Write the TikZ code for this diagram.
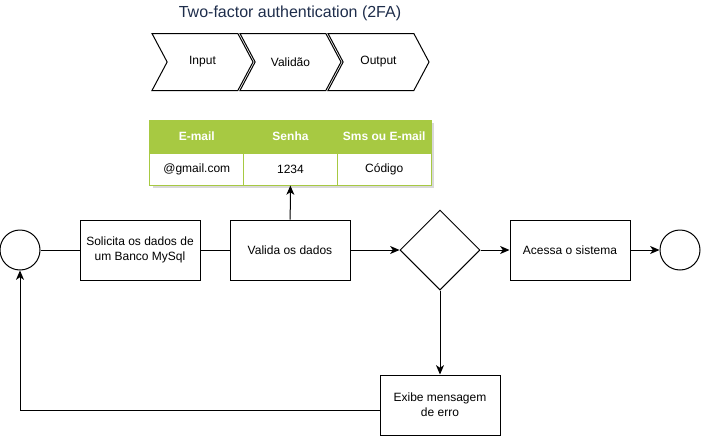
\documentclass[tikz,border=0pt]{standalone}
\usepackage{fontspec}
\setmainfont{Liberation Sans}
\usetikzlibrary{arrows.meta,shapes.geometric,shapes.symbols,shadows}
\definecolor{tabgreen}{RGB}{167,201,66}
\definecolor{titleblue}{RGB}{30,45,75}

\begin{document}
\begin{tikzpicture}[x=0.75pt, y=-0.75pt, >={Stealth[length=7pt,width=6pt,inset=2pt]},
  line width=0.75pt, font=\fontsize{9}{11}\selectfont,
  etapa/.style={draw, rectangle, minimum width=90pt, minimum height=45pt, align=center, inner sep=2pt},
  evento/.style={draw, circle, minimum size=30pt, inner sep=0pt},
  decisao/.style={draw, diamond, aspect=1, minimum width=60pt, minimum height=60pt, inner sep=0pt},
  fase/.style={draw, signal, signal to=east, signal from=west, signal pointer angle=124,
    minimum width=75.75pt, minimum height=42.75pt, inner sep=0pt},
  cabec/.style={fill=tabgreen, draw=tabgreen, text=white, font=\fontsize{9}{11}\selectfont\bfseries,
    minimum width=70.25pt, minimum height=24.75pt, inner sep=0pt},
  celula/.style={fill=white, draw=tabgreen, minimum width=70.25pt, minimum height=24pt, inner sep=0pt}]
  \useasboundingbox (0,0) rectangle (701,436);
  % Title and phases
  \node[text=titleblue, font=\fontsize{12}{14}\selectfont] (titulo) at (290,13) {Two-factor authentication (2FA)};
  \node[fase] (input) at (202.5,62) {Input};
  \node[fase] (validao) at (290.5,62) {Validão};
  \node[fase] (output) at (378.5,62) {Output};
  % Data table
  \path[fill=white, drop shadow={shadow xshift=2pt, shadow yshift=-2pt, opacity=0.3}] (150,120) rectangle (431,185);
  \node[cabec] (hmail) at (196.8,136.5) {E-mail};
  \node[cabec] (hsenha) at (290.5,136.5) {Senha};
  \node[cabec] (hsms) at (384.2,136.5) {Sms ou E-mail};
  \node[celula] (cmail) at (196.8,169) {@gmail.com};
  \node[celula] (csenha) at (290.5,169) {1234};
  \node[celula] (csms) at (384.2,169) {Código};
  % Flow
  \node[evento] (ini) at (20,250) {};
  \node[etapa] (solic) at (140,250) {Solicita os dados de\\um Banco MySql};
  \node[etapa] (valida) at (290,250) {Valida os dados};
  \node[decisao] (dec) at (440,250) {};
  \node[etapa] (acessa) at (570,250) {Acessa o sistema};
  \node[evento] (fim) at (680,250) {};
  \node[etapa] (erro) at (440,405) {Exibe mensagem\\de erro};
  % Connectors
  \draw (ini) -- (solic);
  \draw (solic) -- (valida);
  \draw[->] (valida) -- (csenha);
  \draw[->] (valida) -- (dec);
  \draw[->] (dec) -- (acessa);
  \draw[->] (acessa) -- (fim);
  \draw[->] (dec) -- (erro);
  \draw[->] ([yshift=-3.75pt]erro.west) -| (ini);
\end{tikzpicture}
\end{document}
